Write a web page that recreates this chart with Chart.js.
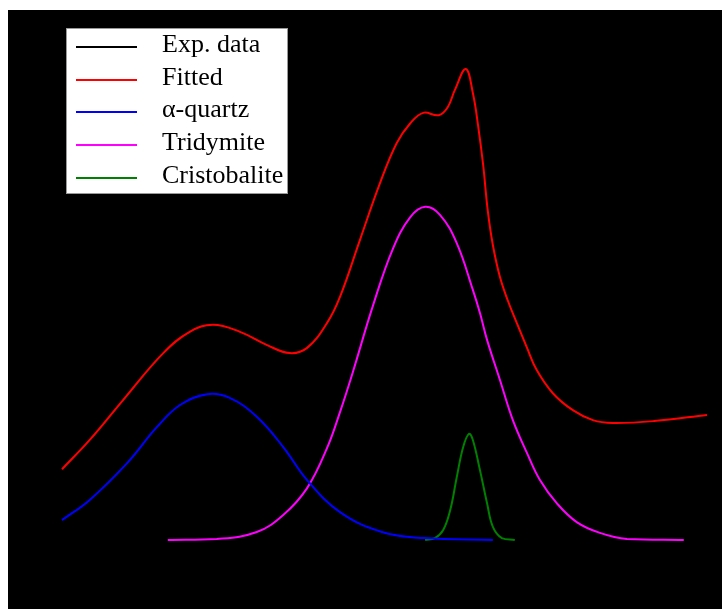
<!DOCTYPE html>
<html>
<head>
<meta charset="utf-8">
<script src="https://cdn.jsdelivr.net/npm/chart.js@4.4.1/dist/chart.umd.min.js"></script>
<style>
  body { margin: 0; background: #fff; }
  #wrap { position: relative; width: 722px; height: 609px; }
  #legend {
    position: absolute; left: 66px; top: 28px; width: 222px; height: 166px;
    background: #fff; border: 1px solid #999; box-sizing: border-box;
    font-family: "Liberation Serif", "Times New Roman", serif; font-size: 26px; color: #000;
  }
  .item { position: absolute; left: 0; height: 33px; width: 100%; }
  .item span.ln { position: absolute; left: 9px; width: 61px; height: 2px; top: 19px; }
  .item span.tx { position: absolute; left: 95px; top: 0; line-height: 33px; white-space: nowrap; }
</style>
</head>
<body>
<div id="wrap">
  <canvas id="chart" width="722" height="609"></canvas>
  <div id="legend"></div>
</div>
<script>
"use strict";

// series (x: arbitrary units 0-100, y: intensity 0-100)
var expX = [];
var expY = [];

var fittedX = [0, 4.3, 9.5, 15.7, 19.8, 23.4, 27.6, 31.8, 35.3, 38.0, 41.1, 43.1, 46.2, 49.3, 51.9, 54.0, 56.0, 58.4, 59.8, 60.9, 62.6, 63.7, 64.5, 65.3, 66.0, 66.8, 67.9, 69.1, 70.5, 72.1, 73.6, 76.1, 79.2, 82.3, 85.4, 91.8, 100];
var fittedY = [15.0, 21.2, 29.7, 39.6, 44.1, 45.6, 44.1, 41.3, 39.6, 40.7, 46.0, 51.5, 63.6, 75.6, 84.1, 88.3, 90.5, 90.0, 91.7, 95.3, 99.8, 94.7, 87.9, 79.4, 69.9, 62.5, 55.7, 50.8, 46.0, 40.7, 36.0, 31.1, 27.5, 25.4, 24.8, 25.2, 26.5];

var quartzX = [0, 4.3, 10.1, 14.7, 18.3, 22.5, 26.0, 30.2, 34.3, 38.0, 43.1, 49.6, 56.1, 66.8];
var quartzY = [4.2, 8.5, 16.3, 23.9, 28.6, 30.9, 30.1, 26.1, 19.7, 12.7, 5.9, 1.7, 0.4, 0];

var tridymiteX = [16.4, 24.0, 30.2, 34.3, 38.0, 41.1, 43.1, 45.1, 48.2, 51.3, 54.0, 56.3, 58.6, 61.2, 63.7, 64.8, 65.9, 67.9, 69.9, 72.1, 74.1, 76.7, 79.8, 83.4, 87.6, 96.4];
var tridymiteY = [0, 0.2, 1.7, 5.3, 11.0, 19.5, 27.1, 35.6, 49.6, 61.7, 68.4, 70.6, 68.9, 62.9, 53.0, 48.1, 42.4, 33.9, 25.4, 18.4, 12.7, 7.8, 3.8, 1.5, 0.2, 0];

var cristobaliteX = [56.3, 57.8, 59.1, 60.2, 61.2, 62.2, 63.1, 63.7, 64.8, 65.9, 66.8, 68.2, 70.2];
var cristobaliteY = [0, 0.4, 2.1, 6.4, 13.3, 19.7, 22.5, 21.2, 14.8, 7.8, 2.8, 0.4, 0];

var labels = ['Exp. data', 'Fitted', '\u03b1-quartz', 'Tridymite', 'Cristobalite'];
var colors = ['#000000', '#ff0000', '#0000ff', '#ff00ff', '#008000'];

function ToPoints(xs, ys) {
	var pts = [];
	for (var i = 0; i < xs.length; i++) {
		pts.push({ x: xs[i], y: ys[i] });
	}
	return pts;
}

var series = [
	ToPoints(expX, expY),
	ToPoints(fittedX, fittedY),
	ToPoints(quartzX, quartzY),
	ToPoints(tridymiteX, tridymiteY),
	ToPoints(cristobaliteX, cristobaliteY)
];

var datasets = [];
for (var i = 0; i < series.length; i++) {
	datasets.push({
		label: labels[i],
		data: series[i],
		borderColor: colors[i],
		backgroundColor: colors[i],
		borderWidth: 2,
		pointRadius: 0,
		tension: 0.4,
		fill: false,
		clip: false
	});
}

// black plot frame behind everything
var blackFrame = {
	id: 'blackFrame',
	beforeDraw: function (chart) {
		var ctx = chart.ctx;
		ctx.save();
		ctx.fillStyle = '#000';
		ctx.fillRect(8, 10, 714, 599);
		ctx.restore();
	}
};

const context = document.getElementById('chart');
const myChart = new Chart(context, {
	type: 'line',
	data: { datasets: datasets },
	plugins: [blackFrame],
	options: {
		responsive: false,
		animation: false,
		layout: { padding: { left: 62, right: 15, top: 68, bottom: 69 } },
		plugins: {
			legend: { display: false },
			tooltip: { enabled: false }
		},
		scales: {
			x: { type: 'linear', min: 0, max: 100, display: false },
			y: { min: 0, max: 100, display: false }
		}
	}
});

// legend box
function BuildLegend(list) {
	var legend = document.getElementById('legend');
	for (var i = 0; i < list.length; i++) {
		var item = document.createElement('div');
		item.className = 'item';
		item.style.top = Math.round(i * 32.7 - 2) + 'px';
		var ln = document.createElement('span');
		ln.className = 'ln';
		ln.style.background = colors[i];
		var tx = document.createElement('span');
		tx.className = 'tx';
		tx.textContent = list[i];
		item.appendChild(ln);
		item.appendChild(tx);
		legend.appendChild(item);
	}
}
BuildLegend(labels);
</script>
</body>
</html>
